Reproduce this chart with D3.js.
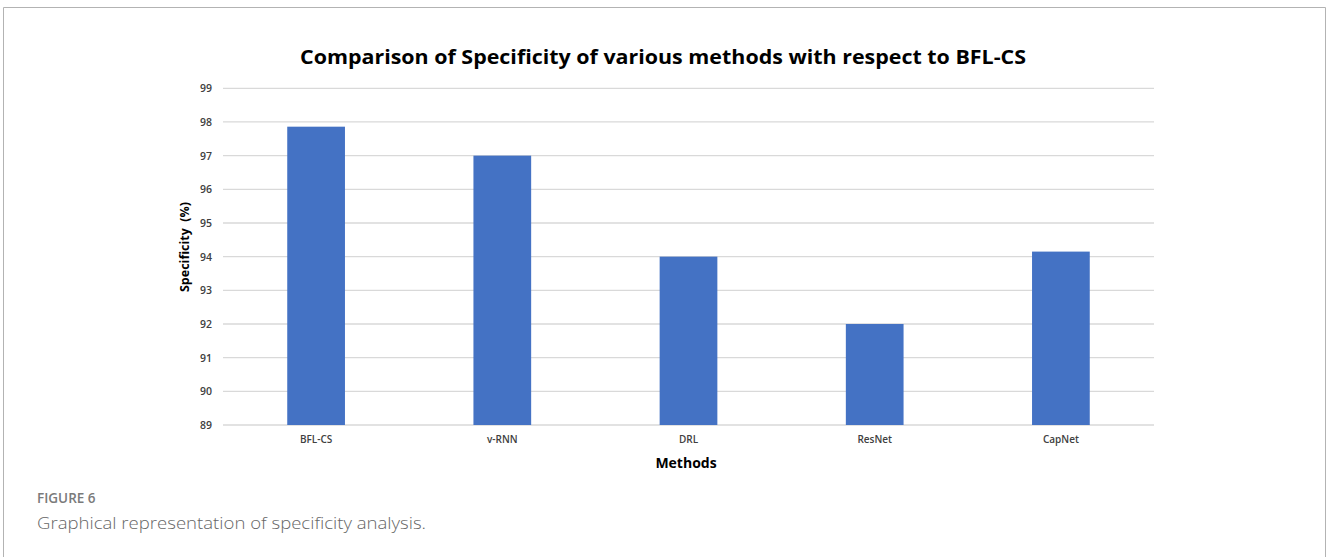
<!DOCTYPE html>
<html>
<head>
<meta charset="utf-8">
<script src="https://cdn.jsdelivr.net/npm/d3@7"></script>
<style>
  html, body { margin: 0; padding: 0; background: #fff; }
  svg { display: block; }
</style>
</head>
<body>
<script>
// Specificity (%) per method
const methods = ["BFL-CS", "v-RNN", "DRL", "ResNet", "CapNet"];
const specificity = [97.86, 97.0, 94.0, 92.0, 94.15];
const yTicks = [89, 90, 91, 92, 93, 94, 95, 96, 97, 98, 99];

const W = 1328, H = 557;
const svg = d3.select("body").append("svg").attr("width", W).attr("height", H);

// Outer frame (open at the bottom)
svg.append("path")
  .attr("d", `M3.5,${H} L3.5,7.5 L1325.5,7.5 L1325.5,${H}`)
  .attr("fill", "none").attr("stroke", "#b3b3b3").attr("stroke-width", 1);

const plot = { left: 223, right: 1154, top: 88.3, bottom: 425 };

const x = d3.scaleBand().domain(methods).range([plot.left, plot.right]).paddingInner(0.69).paddingOuter(0.345);
const y = d3.scaleLinear().domain([89, 99]).range([plot.bottom, plot.top]);

const chartFont = "'Open Sans', 'Liberation Sans', sans-serif";

// Gridlines
svg.append("g")
  .selectAll("line").data(yTicks).join("line")
  .attr("x1", plot.left).attr("x2", plot.right)
  .attr("y1", d => y(d)).attr("y2", d => y(d))
  .attr("stroke", "#d9d9d9").attr("stroke-width", 1.3);

// Bars
svg.append("g")
  .selectAll("rect").data(methods).join("rect")
  .attr("x", d => x(d))
  .attr("width", x.bandwidth())
  .attr("y", (d, i) => y(specificity[i]))
  .attr("height", (d, i) => y(89) - y(specificity[i]))
  .attr("fill", "#4472c4");

// Y axis labels
const yAxis = d3.axisLeft(y).tickValues(yTicks).tickSize(0).tickPadding(0).tickFormat(d3.format("d"));
const gy = svg.append("g").attr("transform", `translate(${212},0)`).call(yAxis);
gy.select(".domain").remove();
gy.selectAll("text")
  .attr("font-family", chartFont).attr("font-size", 10.5).attr("font-weight", 600)
  .attr("fill", "#404040");

// X axis labels
const xAxis = d3.axisBottom(x).tickSize(0).tickPadding(0);
const gx = svg.append("g").attr("transform", `translate(0,${436})`).call(xAxis);
gx.select(".domain").remove();
gx.selectAll("text")
  .attr("font-family", chartFont).attr("font-size", 10).attr("font-weight", 600)
  .attr("fill", "#404040");

// Title
svg.append("text")
  .attr("x", 663).attr("y", 64)
  .attr("text-anchor", "middle")
  .attr("font-family", chartFont).attr("font-size", 20).attr("font-weight", 700)
  .attr("fill", "#000")
  .attr("textLength", 726).attr("lengthAdjust", "spacingAndGlyphs")
  .text("Comparison of Specificity of various methods with respect to BFL-CS");

// Axis titles
svg.append("text")
  .attr("x", 686).attr("y", 468)
  .attr("text-anchor", "middle")
  .attr("font-family", chartFont).attr("font-size", 14).attr("font-weight", 700)
  .attr("fill", "#000")
  .text("Methods");

svg.append("text")
  .attr("transform", `translate(188.5,247) rotate(-90)`)
  .attr("text-anchor", "middle")
  .attr("font-family", chartFont).attr("font-size", 12.5).attr("font-weight", 700)
  .attr("fill", "#000")
  .attr("xml:space", "preserve")
  .text("Specificity  (%)");

// Caption
svg.append("text")
  .attr("x", 37).attr("y", 503)
  .attr("font-family", "'Open Sans', sans-serif").attr("font-size", 13.5).attr("font-weight", 600)
  .attr("fill", "#7a7a7a")
  .text("FIGURE 6");

svg.append("text")
  .attr("x", 37).attr("y", 529)
  .attr("font-family", "'Open Sans', sans-serif").attr("font-size", 17).attr("font-weight", 300)
  .attr("fill", "#666")
  .attr("textLength", 389).attr("lengthAdjust", "spacingAndGlyphs")
  .text("Graphical representation of specificity analysis.");
</script>
</body>
</html>
